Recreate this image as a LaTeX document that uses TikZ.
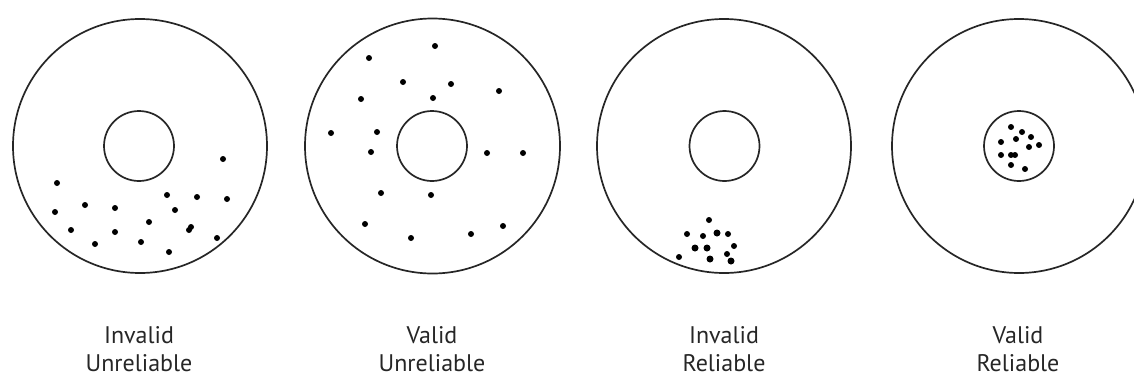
\documentclass[tikz,border=0pt]{standalone}
\usepackage{fontspec}
\setmainfont{PT Sans}
\begin{document}
\begin{tikzpicture}[x=1pt,y=-1pt,
  ring/.style={draw=black!85,line width=1.7pt},
  dot/.style={fill=black,draw=none},
  lab/.style={font=\fontsize{24}{28}\selectfont,text=black!85,align=center,anchor=base,inner sep=0pt}]
\path[use as bounding box] (0,0) rectangle (1134,378);
\begin{scope}
\clip (0,0) rectangle (1134,378);
% circle 1
\draw[ring] (140,146) circle[radius=127];
\draw[ring] (139,146) circle[radius=35];
\foreach \x/\y in {57/183,223/159,167/195,197/197,227/199,55/212,85/205,115/208,175/210,149/222,71/230,115/232,189/230,191/227,95/244,141/242,217/238,169/252}
  \fill[dot] (\x,\y) circle[radius=3];
% circle 2
\draw[ring] (432.5,146) circle[radius=127.5];
\draw[ring] (432,146) circle[radius=35];
\foreach \x/\y in {435/46,369/58,403/82,451/84,499/91,361/99,433/98,331/133,377/132,371/152,487/153,523/153,381/193,431/195,365/224,503/226,411/238,471/234}
  \fill[dot] (\x,\y) circle[radius=3];
% circle 3
\draw[ring] (724,146) circle[radius=127];
\draw[ring] (724.5,146) circle[radius=35];
\foreach \x/\y/\r in {709/220/3,687/234/3,703/236/3,717/233/3.5,728/234/3,695/248/3.5,707/248/3.5,734/246/3,679/257/3,710/259/3.5,727/254/3,731/261/3.5}
  \fill[dot] (\x,\y) circle[radius=\r];
% circle 4
\draw[ring] (1019,146) circle[radius=127];
\draw[ring] (1019,146) circle[radius=35];
\foreach \x/\y in {1011/127,1022/132,1031/137,1001/142,1016/139,1029/147,1039/145,1001/155,1011/155,1015/155,1011/165,1025/169}
  \fill[dot] (\x,\y) circle[radius=3];
\end{scope}
% labels
\node[lab] (l1) at (139,371.5) {Invalid\\Unreliable};
\node[lab] (l2) at (432,371.5) {Valid\\Unreliable};
\node[lab] (l3) at (724,371.5) {Invalid\\Reliable};
\node[lab] (l4) at (1018,371.5) {Valid\\Reliable};
\end{tikzpicture}
\end{document}
